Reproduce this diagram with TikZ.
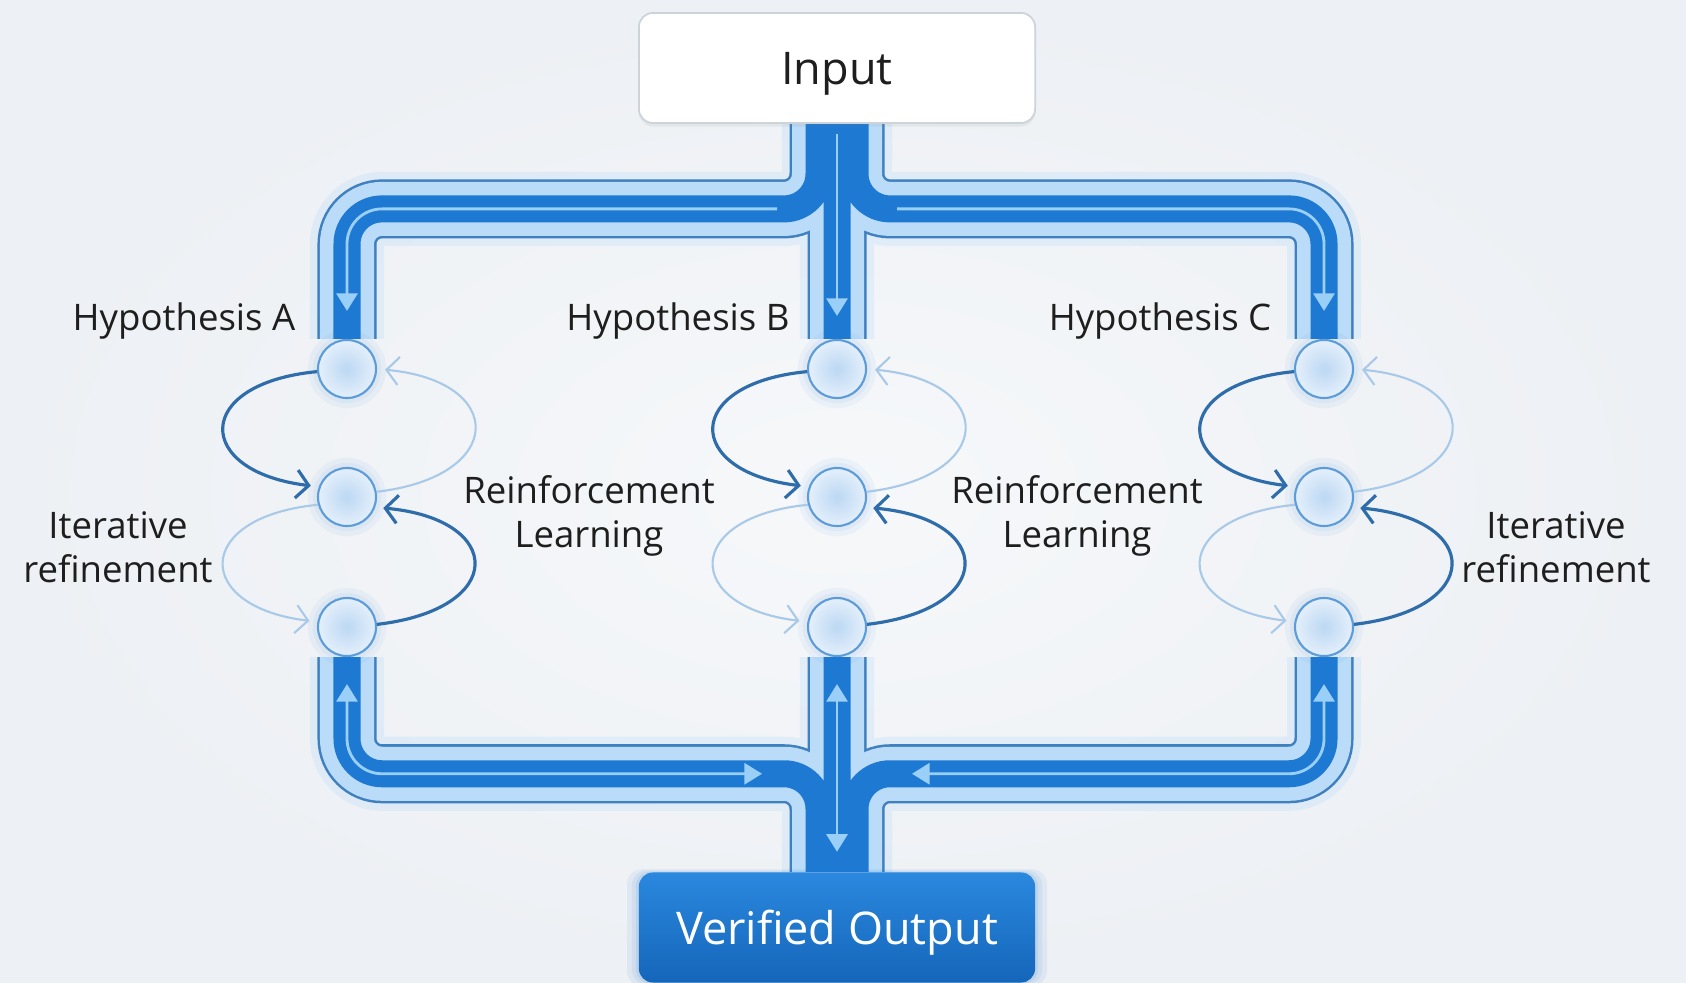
\documentclass[tikz,border=0pt]{standalone}
\usepackage{fontspec}
\setmainfont{Open Sans}
\usetikzlibrary{arrows.meta,calc,shadows}

\definecolor{pagebg}{HTML}{EDF0F4}
\definecolor{pagemid}{HTML}{F6F8FA}
\definecolor{pipecore}{HTML}{1E79D3}
\definecolor{pipelight}{HTML}{BADCF8}
\definecolor{pipeedge}{HTML}{3F80C0}
\definecolor{flowline}{HTML}{9ACFF7}
\definecolor{ringedge}{HTML}{5C9CD8}
\definecolor{ringin}{HTML}{BCD8F3}
\definecolor{ringout}{HTML}{E4EFFB}
\definecolor{loopdark}{HTML}{2E6DAA}
\definecolor{looplight}{HTML}{A9C9E8}
\definecolor{outtop}{HTML}{2A88DE}
\definecolor{outbot}{HTML}{1566BA}
\definecolor{inedge}{HTML}{CDD3DB}
\definecolor{txt}{HTML}{1E1E1E}

\pgfdeclarelayer{bg}
\pgfdeclarelayer{pipes}
\pgfsetlayers{bg,pipes,main}

\begin{document}
\begin{tikzpicture}[
    x=0.01cm, y=-0.01cm,
    >={Triangle[length=5pt, width=6pt]},
    box/.style={rectangle, rounded corners=4pt, minimum width=3.96cm, text depth=0pt,
                minimum height=1.1cm, font=\fontsize{12.8}{15}\selectfont},
    inbox/.style={box, draw=inedge, line width=0.5pt, fill=white, text=txt,
                  drop shadow={opacity=0.10, shadow xshift=0pt, shadow yshift=-1pt}},
    outbox/.style={box, top color=outtop, bottom color=outbot, text=white,
                   general shadow={fill=pipecore, opacity=0.07, shadow scale=1.06},
                   general shadow={fill=pipecore, opacity=0.08, shadow scale=1.035},
                   general shadow={fill=pipecore, opacity=0.10, shadow scale=1.015}},
    hyp/.style={circle, draw=ringedge, line width=0.6pt, minimum size=5.8mm,
                inner sep=0pt, inner color=ringin, outer color=ringout,
                general shadow={fill=pipecore, opacity=0.05, shadow scale=1.35},
                general shadow={fill=pipecore, opacity=0.05, shadow scale=1.18}},
    lbl/.style={font=\fontsize{10.4}{12.4}\selectfont, text=txt, align=center},
    flow/.style={draw=flowline, line width=0.8pt, rounded corners=3.5mm, ->},
    darkloop/.style={draw=loopdark, line width=0.9pt, shorten >=0.8mm,
                     -{Straight Barb[length=3.5pt, width=8pt]}},
    lightloop/.style={draw=looplight, line width=0.6pt, shorten >=0.8mm,
                      -{Straight Barb[length=3.5pt, width=8pt]}},
  ]

  \useasboundingbox (0,0) rectangle (1686,983);
  \begin{pgfonlayer}{bg}
    \shade[inner color=pagemid, outer color=pagebg] (0,0) rectangle (1686,983);
  \end{pgfonlayer}

  % Input and output
  \node[inbox] (in) at (837,68) {Input};
  \node[outbox] (out) at (837,927.5) {Verified Output};

  % Hypothesis circles
  \node[hyp] (a1) at (347,369) {};
  \node[hyp] (a2) at (347,497) {};
  \node[hyp] (a3) at (347,627) {};
  \node[hyp] (b1) at (837,369) {};
  \node[hyp] (b2) at (837,497) {};
  \node[hyp] (b3) at (837,627) {};
  \node[hyp] (c1) at (1324,369) {};
  \node[hyp] (c2) at (1324,497) {};
  \node[hyp] (c3) at (1324,627) {};

  % Labels
  \node[lbl] (hypa) at (184,321) {Hypothesis A};
  \node[lbl] (hypb) at (678,321) {Hypothesis B};
  \node[lbl] (hypc) at (1160,321) {Hypothesis C};
  \node[lbl] (rla) at (589,516) {Reinforcement\\Learning};
  \node[lbl] (rlb) at (1077,516) {Reinforcement\\Learning};
  \node[lbl] (ita) at (118,547) {Iterative\\refinement};
  \node[lbl] (itc) at (1556,547) {Iterative\\refinement};

  % Pipes
  \begin{pgfonlayer}{pipes}
    \foreach \lw/\col/\op in {7.4mm/pipelight/0.3, 5.9mm/pipeedge/1,
                              5.4mm/pipelight/1, 2.7mm/pipecore/1}
      \draw[line width=\lw, draw=\col, opacity=\op, rounded corners=3.5mm]
        ($(in.south)+(-18,0)$) -- ++(0,85) -| (a1)
        (in) -- (b1)
        ($(in.south)+(18,0)$) -- ++(0,85) -| (c1)
        (a3) |- ($(out.north)+(-18,-98)$) -- ($(out.north)+(-18,0)$)
        (b3) -- (out)
        (c3) |- ($(out.north)+(18,-98)$) -- ($(out.north)+(18,0)$);

    \draw[flow] ($(in.south)+(-60,85)$) -| ($(a1.north)+(0,-28)$);
    \draw[flow] ($(in.south)+(0,10)$) -- ($(b1.north)+(0,-23)$);
    \draw[flow] ($(in.south)+(60,85)$) -| ($(c1.north)+(0,-28)$);
    \draw[flow, <->] ($(a3.south)+(0,27)$) |- ($(out.north)+(-75,-98)$);
    \draw[flow, <->] ($(b3.south)+(0,27)$) -- ($(out.north)+(0,-20)$);
    \draw[flow, <->] ($(c3.south)+(0,27)$) |- ($(out.north)+(75,-98)$);
  \end{pgfonlayer}

  % Refinement loops
  \draw[darkloop] (a1.185) .. controls +(-125,12) and +(-125,-15) .. (a2.160);
  \draw[lightloop] (a2.10) .. controls +(130,-15) and +(130,12) .. (a1.0);
  \draw[lightloop] (a2.195) .. controls +(-125,12) and +(-125,-15) .. (a3.170);
  \draw[darkloop] (a3.5) .. controls +(130,-15) and +(130,12) .. (a2.340);

  \draw[darkloop] (b1.185) .. controls +(-125,12) and +(-125,-15) .. (b2.160);
  \draw[lightloop] (b2.10) .. controls +(130,-15) and +(130,12) .. (b1.0);
  \draw[lightloop] (b2.195) .. controls +(-125,12) and +(-125,-15) .. (b3.170);
  \draw[darkloop] (b3.5) .. controls +(130,-15) and +(130,12) .. (b2.340);

  \draw[darkloop] (c1.185) .. controls +(-125,12) and +(-125,-15) .. (c2.160);
  \draw[lightloop] (c2.10) .. controls +(130,-15) and +(130,12) .. (c1.0);
  \draw[lightloop] (c2.195) .. controls +(-125,12) and +(-125,-15) .. (c3.170);
  \draw[darkloop] (c3.5) .. controls +(130,-15) and +(130,12) .. (c2.340);

\end{tikzpicture}
\end{document}
